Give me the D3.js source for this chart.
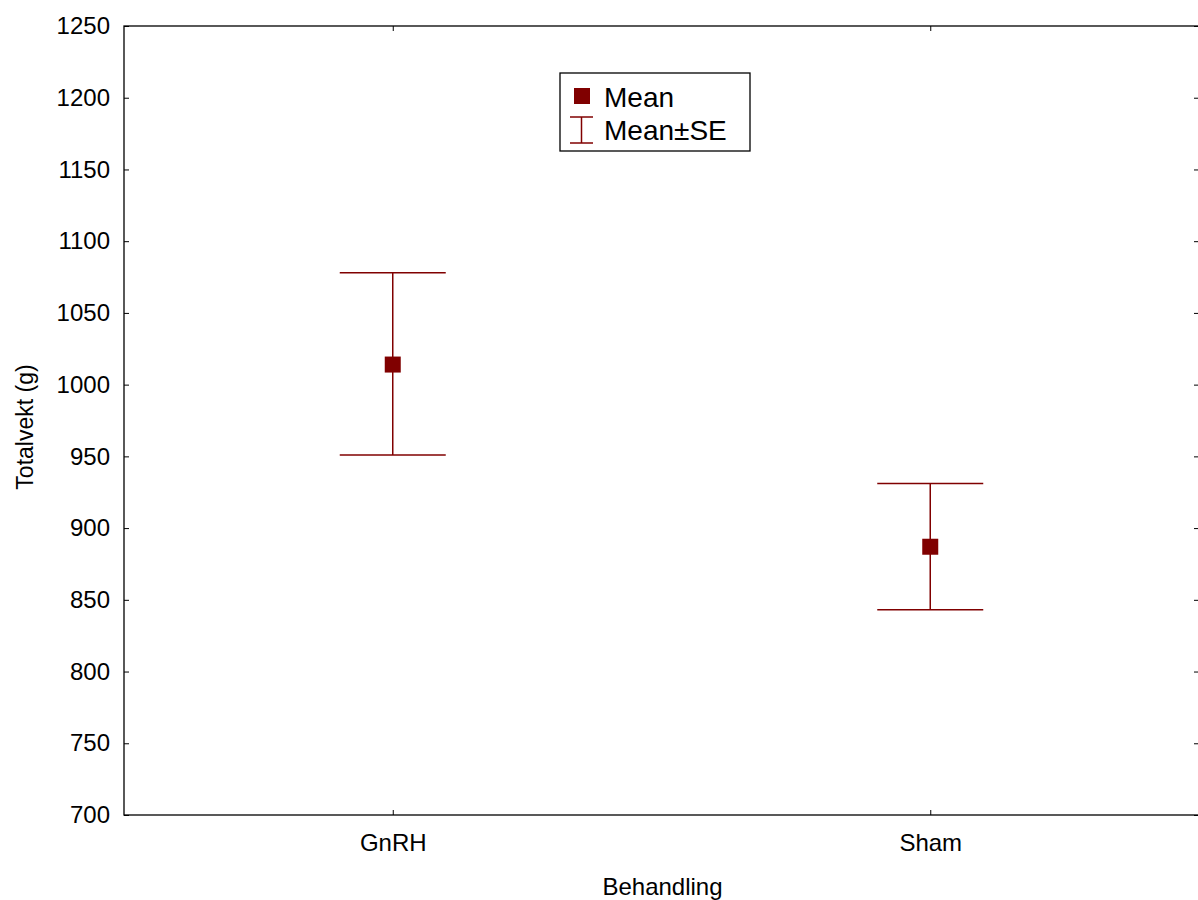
<!DOCTYPE html>
<html>
<head>
<meta charset="utf-8">
<script src="https://cdn.jsdelivr.net/npm/d3@7"></script>
<style>
  body { margin: 0; background: #fff; }
  svg { font-family: "Liberation Sans", Arial, sans-serif; }
</style>
</head>
<body>
<div id="chart"></div>
<script>
// data
const groups = ["GnRH", "Sham"];
const means = [1014, 887];
const upper = [1078, 931];
const lower = [951, 843];
const yTicks = [700, 750, 800, 850, 900, 950, 1000, 1050, 1100, 1150, 1200, 1250];

const W = 1198, H = 900;
const margin = {top: 26, right: 0, bottom: 85, left: 124};
const width = 1075, height = H - margin.top - margin.bottom;
const red = "#800000";

const svg = d3.select("#chart").append("svg")
    .attr("width", W).attr("height", H);
const g = svg.append("g")
    .attr("transform", `translate(${margin.left},${margin.top})`);

const x = d3.scalePoint().domain(groups).range([0, width]).padding(0.5);
const y = d3.scaleLinear().domain([700, 1250]).range([height, 0]);

// frame
g.append("rect").attr("x", 0).attr("y", 0).attr("width", width).attr("height", height)
  .attr("fill", "none").attr("stroke", "#000").attr("stroke-width", 1.3);

// axes, ticks pointing inward
const axLeft = g.append("g").call(d3.axisLeft(y).tickValues(yTicks).tickSize(-5).tickPadding(14).tickFormat(d3.format("d")));
const axRight = g.append("g").attr("transform", `translate(${width},0)`)
  .call(d3.axisRight(y).tickValues(yTicks).tickSize(-5).tickFormat(""));
const axBottom = g.append("g").attr("transform", `translate(0,${height})`)
  .call(d3.axisBottom(x).tickSize(-5).tickPadding(19));
const axTop = g.append("g").call(d3.axisTop(x).tickSize(-5).tickFormat(""));
[axLeft, axRight, axBottom, axTop].forEach(a => {
  a.select(".domain").remove();
  a.selectAll("line").attr("stroke", "#000");
  a.selectAll("text").style("font-size", "24px").attr("fill", "#000");
});

// axis titles
svg.append("text").attr("x", margin.left + width / 2 + 1).attr("y", 895)
  .attr("text-anchor", "middle").style("font-size", "24px").text("Behandling");
svg.append("text").attr("transform", `translate(33,427) rotate(-90)`)
  .attr("text-anchor", "middle").style("font-size", "23px").text("Totalvekt (g)");

// error bars
const capW = 53;
const bars = g.append("g").selectAll("g").data(groups).join("g");
bars.append("line")
  .attr("x1", d => x(d)).attr("x2", d => x(d))
  .attr("y1", (d, i) => y(upper[i])).attr("y2", (d, i) => y(lower[i]))
  .attr("stroke", red).attr("stroke-width", 1.5);
bars.append("line")
  .attr("x1", d => x(d) - capW).attr("x2", d => x(d) + capW)
  .attr("y1", (d, i) => y(upper[i])).attr("y2", (d, i) => y(upper[i]))
  .attr("stroke", red).attr("stroke-width", 1.5);
bars.append("line")
  .attr("x1", d => x(d) - capW).attr("x2", d => x(d) + capW)
  .attr("y1", (d, i) => y(lower[i])).attr("y2", (d, i) => y(lower[i]))
  .attr("stroke", red).attr("stroke-width", 1.5);
bars.append("rect")
  .attr("x", d => x(d) - 8).attr("y", (d, i) => y(means[i]) - 8)
  .attr("width", 16).attr("height", 16).attr("fill", red);

// legend
const lg = svg.append("g").attr("transform", "translate(560,73)");
lg.append("rect").attr("width", 190).attr("height", 78)
  .attr("fill", "#fff").attr("stroke", "#000").attr("stroke-width", 1.3);
lg.append("rect").attr("x", 14).attr("y", 15).attr("width", 16).attr("height", 16).attr("fill", red);
lg.append("text").attr("x", 44).attr("y", 34).style("font-size", "28px").text("Mean");
lg.append("line").attr("x1", 21.5).attr("x2", 21.5).attr("y1", 44).attr("y2", 70).attr("stroke", red).attr("stroke-width", 1.5);
lg.append("line").attr("x1", 10).attr("x2", 33).attr("y1", 44).attr("y2", 44).attr("stroke", red).attr("stroke-width", 1.5);
lg.append("line").attr("x1", 10).attr("x2", 33).attr("y1", 70).attr("y2", 70).attr("stroke", red).attr("stroke-width", 1.5);
lg.append("text").attr("x", 44).attr("y", 67).style("font-size", "28px").text("Mean±SE");
</script>
</body>
</html>
